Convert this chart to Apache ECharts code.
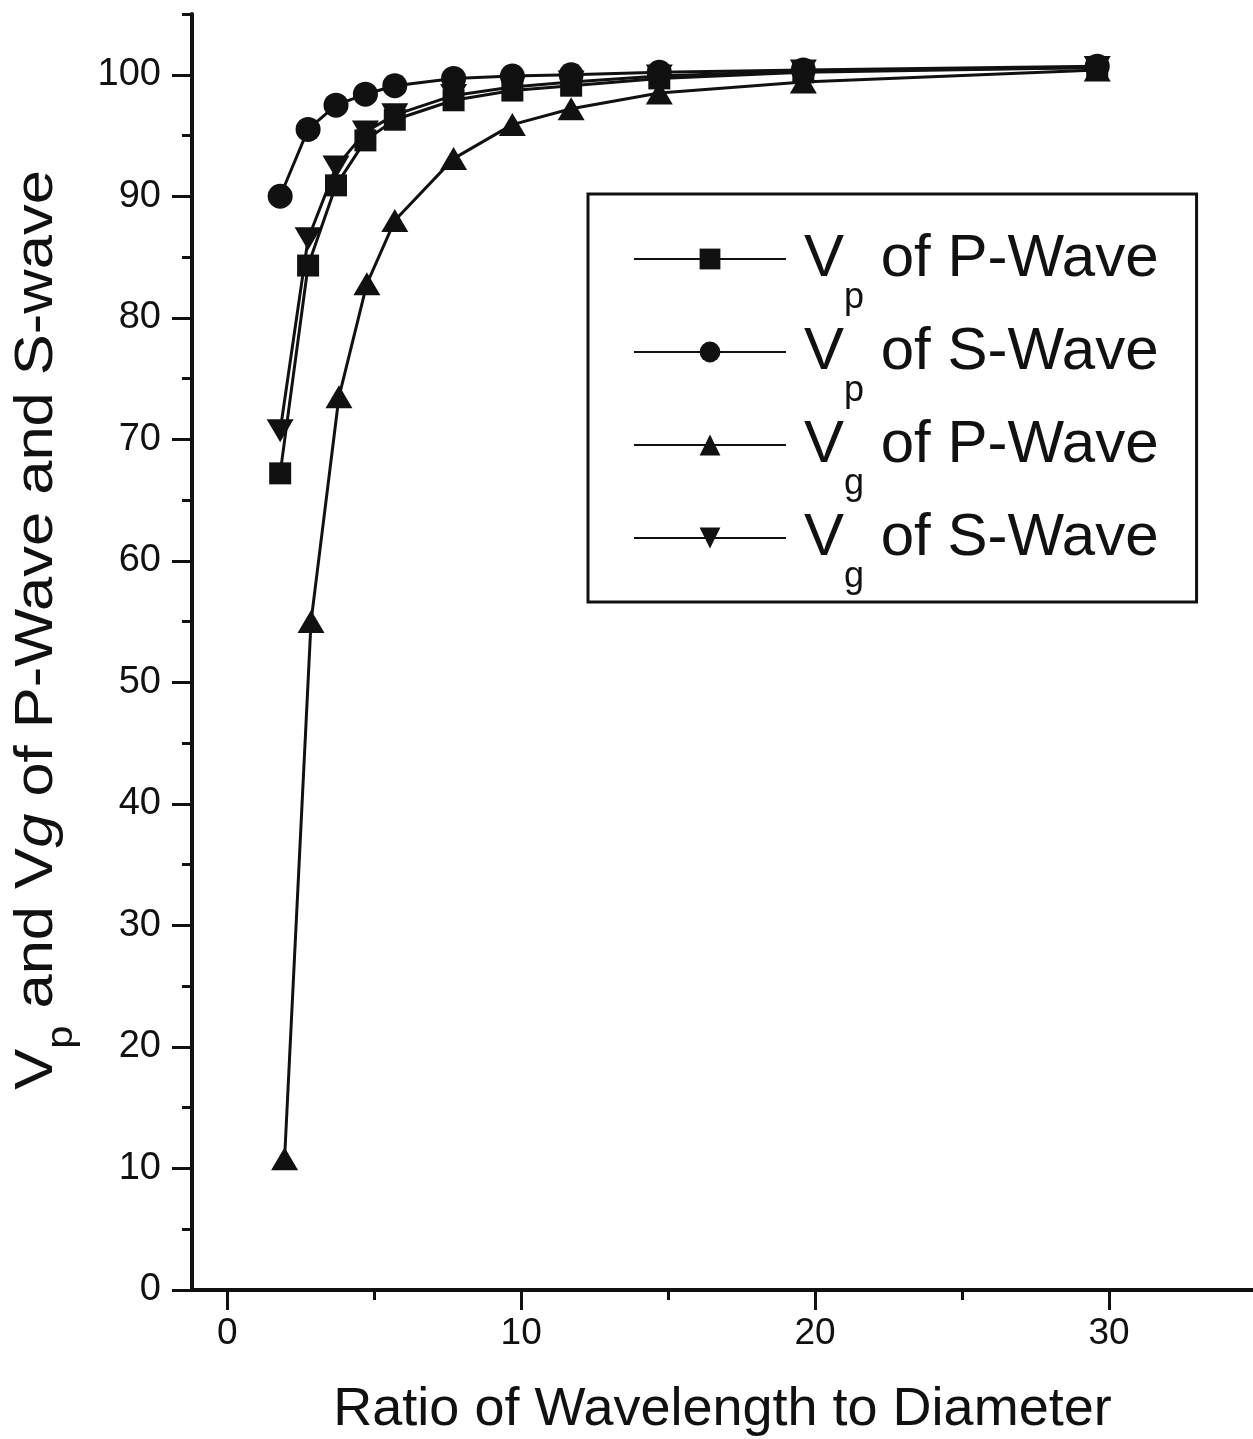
<!DOCTYPE html>
<html>
<head>
<meta charset="utf-8">
<script src="https://cdn.jsdelivr.net/npm/echarts@6/dist/echarts.min.js"></script>
<style>
html,body{margin:0;padding:0;background:#fff;}
#chart{width:1253px;height:1439px;}
</style>
</head>
<body>
<div id="chart"></div>
<script>
// ---- data ----
var seriesNames = ['Vp of P-Wave', 'Vp of S-Wave', 'Vg of P-Wave', 'Vg of S-Wave'];
var xCommon = [1.8, 2.75, 3.7, 4.7, 5.7, 7.7, 9.7, 11.7, 14.7, 19.6, 29.6];
var xVgP    = [1.95, 2.85, 3.8, 4.75, 5.7, 7.7, 9.7, 11.7, 14.7, 19.6, 29.6];
var vpP = [67.2, 84.3, 90.9, 94.6, 96.3, 97.9, 98.7, 99.1, 99.7, 100.2, 100.6];
var vpS = [90.0, 95.5, 97.5, 98.4, 99.1, 99.7, 99.9, 100.0, 100.2, 100.4, 100.7];
var vgP = [10.8, 55.0, 73.5, 82.8, 88.0, 93.1, 95.9, 97.2, 98.5, 99.4, 100.4];
var vgS = [70.7, 86.5, 92.4, 95.3, 96.7, 98.3, 99.0, 99.4, 99.9, 100.3, 100.6];
var xMajorTicks = [0, 10, 20, 30];
var xMinorTicks = [5, 15, 25];
var yMajorTicks = [0, 10, 20, 30, 40, 50, 60, 70, 80, 90, 100];
var yMinorTicks = [5, 15, 25, 35, 45, 55, 65, 75, 85, 95, 105];
var xTitle = 'Ratio of Wavelength to Diameter';
var yTitleRich = '{m|V}{s|p}{m| and V}{i|g}{m| of P-Wave and S-wave}';

function pairs(xs, ys) { return xs.map(function (x, i) { return [x, ys[i]]; }); }

var INK = '#111';
var FONT = '"Liberation Sans", Arial, Helvetica, sans-serif';

var legendText = {
  'Vp of P-Wave': '{sp| }{m|V}{s|p}{m| of P-Wave}',
  'Vp of S-Wave': '{sp| }{m|V}{s|p}{m| of S-Wave}',
  'Vg of P-Wave': '{sp| }{m|V}{s|g}{m| of P-Wave}',
  'Vg of S-Wave': '{sp| }{m|V}{s|g}{m| of S-Wave}'
};

function mkSeries(name, data, symbol, size, rotate) {
  return {
    name: name, type: 'line', data: data,
    xAxisIndex: 0, yAxisIndex: 0,
    symbol: symbol, symbolSize: size, symbolRotate: rotate || 0,
    showSymbol: true,
    lineStyle: { color: INK, width: 3 },
    itemStyle: { color: INK, borderWidth: 0 },
    emphasis: { disabled: true },
    animation: false
  };
}

var chart = echarts.init(document.getElementById('chart'), null, { renderer: 'canvas' });
chart.setOption({
  backgroundColor: '#fff',
  animation: false,
  textStyle: { fontFamily: FONT, color: INK },
  grid: { left: 192, right: 0, top: 14, bottom: 149, containLabel: false, outerBoundsMode: 'none' },
  legend: {
    orient: 'vertical', left: 588, top: 194,
    padding: [29, 38, 7, 45],
    itemWidth: 152, itemHeight: 26, itemGap: 0,
    borderColor: INK, borderWidth: 3, backgroundColor: '#fff',
    selectedMode: false,
    data: seriesNames,
    lineStyle: { width: 2 },
    formatter: function (n) { return legendText[n]; },
    textStyle: {
      color: INK, fontFamily: FONT,
      rich: {
        sp: { width: 13, fontSize: 10 },
        m: { fontSize: 60, lineHeight: 72, verticalAlign: 'middle', fontFamily: FONT, color: INK },
        s: { fontSize: 36, lineHeight: 44, verticalAlign: 'top', padding: [57, 0, 0, 0], fontFamily: FONT, color: INK }
      }
    }
  },
  graphic: [{
    type: 'text', x: 37.5, y: 630, rotation: Math.PI / 2, scaleX: 1.16, scaleY: 1,
    silent: true,
    style: {
      text: yTitleRich, align: 'center', verticalAlign: 'middle', fill: INK,
      font: '53px ' + FONT,
      rich: {
        m: { fontSize: 53, lineHeight: 64, verticalAlign: 'middle', fontFamily: FONT, fill: INK },
        i: { fontSize: 53, lineHeight: 64, verticalAlign: 'middle', fontStyle: 'italic', fontFamily: FONT, fill: INK },
        s: { fontSize: 36, lineHeight: 44, verticalAlign: 'top', padding: [39, 0, 0, 0], fontFamily: FONT, fill: INK }
      }
    }
  }],
  xAxis: [{
    type: 'value', min: -1.2, max: 34.9, position: 'bottom',
    axisLine: { show: true, onZero: false, lineStyle: { color: INK, width: 4 } },
    axisTick: { show: true, customValues: xMajorTicks, length: 20, lineStyle: { color: INK, width: 3 } },
    axisLabel: { show: true, customValues: xMajorTicks, fontSize: 37, margin: 25, color: INK, fontFamily: FONT },
    splitLine: { show: false },
    name: xTitle, nameLocation: 'middle', nameGap: 93,
    nameTextStyle: { fontSize: 54, color: INK, fontFamily: FONT }
  }, {
    type: 'value', min: -1.2, max: 34.9, position: 'bottom', offset: 0,
    axisLine: { show: false, onZero: false },
    axisTick: { show: true, customValues: xMinorTicks, length: 10, lineStyle: { color: INK, width: 3 } },
    axisLabel: { show: false },
    splitLine: { show: false }
  }],
  yAxis: [{
    type: 'value', min: 0, max: 105, position: 'left',
    axisLine: { show: true, onZero: false, lineStyle: { color: INK, width: 4 } },
    axisTick: { show: true, customValues: yMajorTicks, length: 20, lineStyle: { color: INK, width: 3 } },
    axisLabel: { show: true, customValues: yMajorTicks, fontSize: 38, margin: 31, color: INK, fontFamily: FONT },
    splitLine: { show: false }
  }, {
    type: 'value', min: 0, max: 105, position: 'left', offset: 0,
    axisLine: { show: false, onZero: false },
    axisTick: { show: true, customValues: yMinorTicks, length: 10, lineStyle: { color: INK, width: 3 } },
    axisLabel: { show: false },
    splitLine: { show: false }
  }],
  series: [
    mkSeries(seriesNames[0], pairs(xCommon, vpP), 'rect', 22),
    mkSeries(seriesNames[1], pairs(xCommon, vpS), 'circle', 25),
    mkSeries(seriesNames[2], pairs(xVgP, vgP), 'triangle', [27, 23]),
    mkSeries(seriesNames[3], pairs(xCommon, vgS), 'triangle', [27, 23], 180)
  ]
});
</script>
</body>
</html>
